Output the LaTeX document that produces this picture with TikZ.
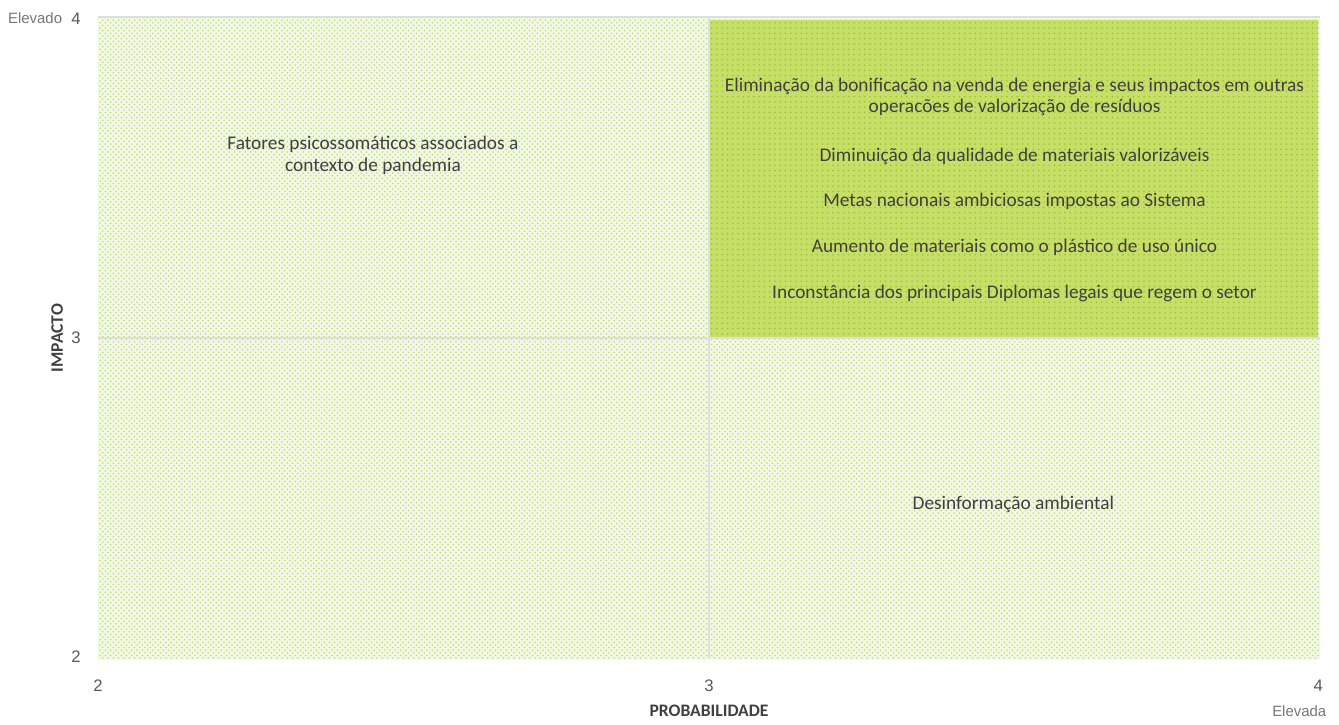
\documentclass[tikz,border=0pt]{standalone}
\usepackage{fontspec}
\setmainfont{Carlito}
\newfontfamily\arialfont{Liberation Sans}
\usetikzlibrary{patterns}
\definecolor{verdeclaro}{RGB}{242,248,230}
\definecolor{pontoclaro}{RGB}{190,220,110}
\definecolor{verdeforte}{RGB}{198,223,104}
\definecolor{pontoforte}{RGB}{158,196,36}
\definecolor{grelha}{RGB}{222,222,222}
\definecolor{texto}{RGB}{64,64,64}
\definecolor{eixo}{RGB}{89,89,89}
\definecolor{nivel}{RGB}{118,118,118}

\begin{document}
\begin{tikzpicture}[x=12.22cm,y=6.42cm,
risco/.style = {text=texto, align=center, inner sep=0pt, font=\fontsize{11}{12}\selectfont},
marca/.style = {text=eixo, inner sep=0pt, font=\arialfont\fontsize{9.5}{11}\selectfont},
nivel/.style = {text=nivel, inner sep=0pt, font=\arialfont\fontsize{8.5}{10}\selectfont},
titulo/.style = {text=texto, inner sep=0pt, font=\bfseries\fontsize{10}{12}\selectfont},]
\useasboundingbox (1.8396,1.7975) rectangle (4.0311,4.053);
% fundo do grafico
\fill[verdeclaro] (2,2) rectangle (4,4);
\fill[pattern=crosshatch dots, pattern color=pontoclaro] (2,2) rectangle (4,4);
\draw[grelha, line width=0.8pt] (2,4)--(4,4) (2,3)--(4,3) (3,2)--(3,4);
% quadrante critico
\fill[verdeforte] (3.0016,3.0031) rectangle (3.9967,3.9907);
\fill[pattern=dots, pattern color=pontoforte] (3.0016,3.0031) rectangle (3.9967,3.9907);
% riscos
\node (R1) at (3.5,3.751)[risco] {Eliminação da bonificação na venda de energia e seus impactos em outras\\operacões de valorização de resíduos};
\node (R2) at (3.5,3.567)[risco] {Diminuição da qualidade de materiais valorizáveis};
\node (R3) at (3.5,3.427)[risco] {Metas nacionais ambiciosas impostas ao Sistema};
\node (R4) at (3.5,3.283)[risco] {Aumento de materiais como o plástico de uso único};
\node (R5) at (3.5,3.140)[risco] {Inconstância dos principais Diplomas legais que regem o setor};
\node (R6) at (3.498,2.483)[risco] {Desinformação ambiental};
\node (R7) at (2.450,3.569)[risco] {Fatores psicossomáticos associados a\\contexto de pandemia};
% eixos
\node (X2) at (2,1.916)[marca] {2};
\node (X3) at (3,1.916)[marca] {3};
\node (X4) at (3.997,1.916)[marca] {4};
\node (Y2) at (1.964,2.006)[marca] {2};
\node (Y3) at (1.964,3)[marca] {3};
\node (Y4) at (1.964,3.994)[marca] {4};
\node (EO) at (1.897,3.997)[nivel] {Elevado};
\node (EA) at (3.966,1.838)[nivel] {Elevada};
\node (PX) at (3,1.838)[titulo] {PROBABILIDADE};
\node (IY) at (1.933,3)[titulo,rotate=90] {IMPACTO};
\end{tikzpicture}
\end{document}
